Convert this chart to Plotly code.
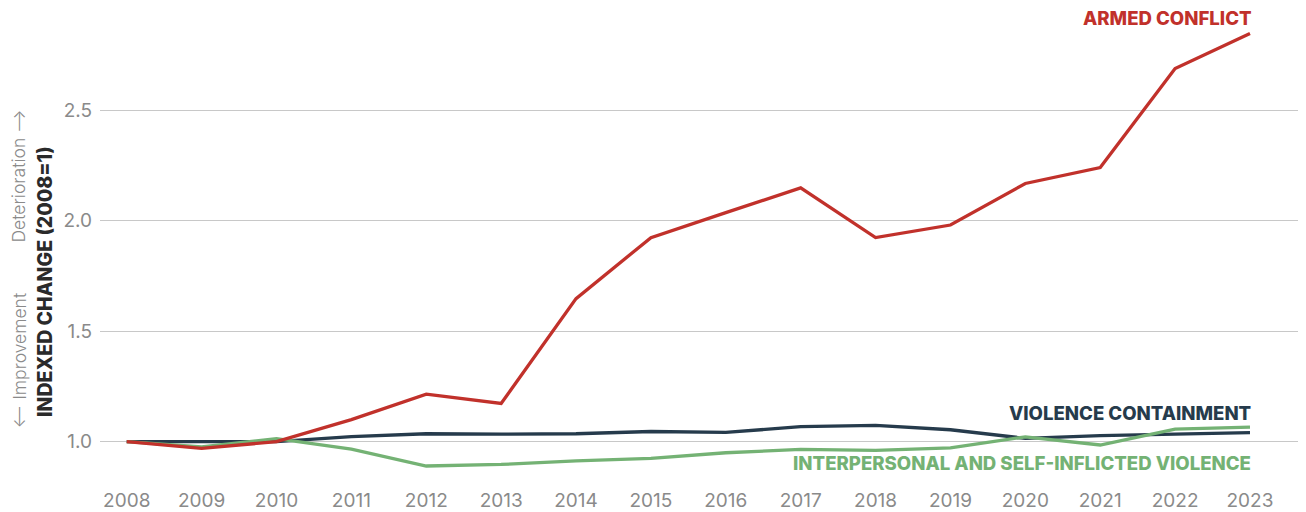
import plotly.graph_objects as go

years = list(range(2008, 2024))
armed_conflict = [1.0, 0.97, 1.0, 1.10, 1.215, 1.173, 1.647, 1.923, 2.036, 2.148,
                  1.923, 1.98, 2.168, 2.24, 2.688, 2.846]
violence_containment = [1.0, 1.0, 1.0, 1.023, 1.036, 1.034, 1.036, 1.046, 1.042, 1.068,
                        1.074, 1.054, 1.015, 1.027, 1.034, 1.041]
interpersonal = [1.0, 0.977, 1.014, 0.966, 0.89, 0.897, 0.913, 0.925, 0.95, 0.965,
                 0.961, 0.972, 1.022, 0.985, 1.057, 1.066]
y_ticks = [1.0, 1.5, 2.0, 2.5]
y_tick_labels = ["1.0", "1.5", "2.0", "2.5"]

RED = "#C1312B"
NAVY = "#263B4C"
GREEN = "#74B274"
FONT = "Inter"

fig = go.Figure()
fig.add_trace(go.Scatter(x=years, y=violence_containment, mode="lines",
                         line=dict(color=NAVY, width=3.3), showlegend=False))
fig.add_trace(go.Scatter(x=years, y=interpersonal, mode="lines",
                         line=dict(color=GREEN, width=3.3), showlegend=False))
fig.add_trace(go.Scatter(x=years, y=armed_conflict, mode="lines",
                         line=dict(color=RED, width=3.3), showlegend=False))

lab_font = dict(family=FONT, size=18.6, weight=800)
fig.add_annotation(x=2023, y=2.916, xref="x", yref="y", text="ARMED CONFLICT",
                   showarrow=False, xanchor="right", yanchor="middle", xshift=4,
                   font=dict(color=RED, **lab_font))
fig.add_annotation(x=2023, y=1.131, xref="x", yref="y", text="VIOLENCE CONTAINMENT",
                   showarrow=False, xanchor="right", yanchor="middle", xshift=3,
                   font=dict(color=NAVY, **lab_font))
fig.add_annotation(x=2023, y=0.902, xref="x", yref="y",
                   text="INTERPERSONAL AND SELF-INFLICTED VIOLENCE",
                   showarrow=False, xanchor="right", yanchor="middle", xshift=3,
                   font=dict(color=GREEN, **lab_font))

# axis titles (positions relative to plot area: left edge at 92px in figure)
fig.add_annotation(x=-55 / 1206, y=1.722, xref="paper", yref="y",
                   text="INDEXED CHANGE (2008=1)", textangle=-90, showarrow=False,
                   xanchor="center", yanchor="middle",
                   font=dict(family=FONT, size=19.5, weight=800, color="#2a2a2a"))
fig.add_annotation(x=-81 / 1206, y=1.05, xref="paper", yref="y",
                   text="⟵ Improvement", textangle=-90, showarrow=False,
                   xanchor="center", yanchor="bottom",
                   font=dict(family=FONT, size=17.5, weight=300, color="#8a8a8a"))
fig.add_annotation(x=-81 / 1206, y=2.509, xref="paper", yref="y",
                   text="Deterioration ⟶", textangle=-90, showarrow=False,
                   xanchor="center", yanchor="top",
                   font=dict(family=FONT, size=17.5, weight=300, color="#8a8a8a"))

fig.update_layout(
    width=1298, height=504,
    margin=dict(l=92, r=0, t=2, b=30),
    paper_bgcolor="white", plot_bgcolor="white",
    font=dict(family=FONT, color="#8a8a8a", size=19),
)
fig.update_xaxes(range=[2007.643, 2023.748], tickmode="array", tickvals=years,
                 ticktext=[str(y) for y in years], showgrid=False, zeroline=False,
                 showline=False, ticks="", automargin=False, ticklabelstandoff=5,
                 tickfont=dict(family=FONT, size=19, color="#8a8a8a"))
fig.update_yaxes(range=[0.8177, 2.9525], tickmode="array", tickvals=y_ticks,
                 ticktext=y_tick_labels, showgrid=True, gridcolor="#c8c8c8", gridwidth=1.3,
                 zeroline=False, showline=False, ticks="", automargin=False,
                 ticklabelstandoff=7,
                 tickfont=dict(family=FONT, size=19, color="#8a8a8a"))

fig.write_html("out.html")
